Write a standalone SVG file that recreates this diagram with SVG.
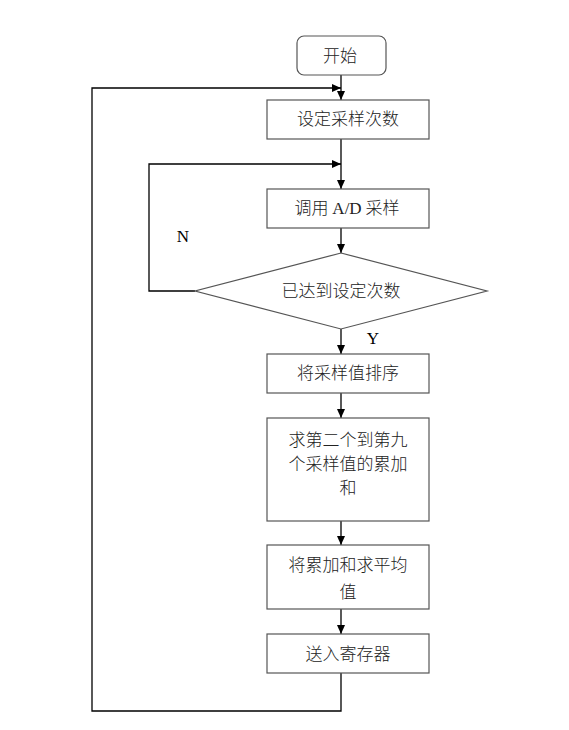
<svg xmlns="http://www.w3.org/2000/svg" width="569" height="730" viewBox="0 0 569 730">
<style>
.box{fill:#fff;stroke:#555;stroke-width:1.2}
.ln{fill:none;stroke:#000;stroke-width:1.3}
.t{font-family:"Noto Sans CJK SC","Noto Sans",sans-serif;font-size:17px;font-weight:300;fill:#222;text-anchor:middle}
.lat{font-family:"Liberation Serif",serif;font-size:17px;fill:#000}
</style>
<defs>
<marker id="ah" markerUnits="userSpaceOnUse" markerWidth="10" markerHeight="10" refX="9" refY="5" orient="auto">
<path d="M0,1 L9,5 L0,9 Z" fill="#000"/>
</marker>
</defs>
<rect width="569" height="730" fill="#fff"/>
<g id="connectors">
<line class="ln" x1="341" y1="75" x2="341" y2="100" marker-end="url(#ah)"/>
<polyline class="ln" points="341,673 341,711 92,711 92,88 341,88" marker-end="url(#ah)"/>
<line class="ln" x1="341" y1="139" x2="341" y2="189" marker-end="url(#ah)"/>
<polyline class="ln" points="195,291 149,291 149,164 341,164" marker-end="url(#ah)"/>
<line class="ln" x1="341" y1="228" x2="341" y2="253" marker-end="url(#ah)"/>
<line class="ln" x1="341" y1="329" x2="341" y2="354" marker-end="url(#ah)"/>
<line class="ln" x1="341" y1="393" x2="341" y2="418" marker-end="url(#ah)"/>
<line class="ln" x1="341" y1="521" x2="341" y2="545" marker-end="url(#ah)"/>
<line class="ln" x1="341" y1="609" x2="341" y2="634" marker-end="url(#ah)"/>
<text class="lat" x="183" y="242" text-anchor="middle">N</text>
<text class="lat" x="373" y="344" text-anchor="middle">Y</text>
</g>
<g id="start">
<rect class="box" x="297" y="36" width="89" height="39" rx="7"/>
<text class="t" x="340" y="62">开始</text>
</g>
<g id="set-count">
<rect class="box" x="267" y="100" width="162" height="39"/>
<text class="t" x="348" y="125">设定采样次数</text>
</g>
<g id="ad-sample">
<rect class="box" x="267" y="189" width="162" height="39"/>
<text class="t" x="347" y="214">调用 <tspan font-family="Liberation Serif, serif" font-weight="400">A/D</tspan> 采样</text>
</g>
<g id="decision">
<polygon class="box" points="341,253 487,291 341,329 195,291"/>
<text class="t" x="341" y="297">已达到设定次数</text>
</g>
<g id="sort">
<rect class="box" x="267" y="354" width="162" height="39"/>
<text class="t" x="348" y="379">将采样值排序</text>
</g>
<g id="sum">
<rect class="box" x="267" y="418" width="162" height="103"/>
<text class="t" x="348" y="446">求第二个到第九</text>
<text class="t" x="348" y="470">个采样值的累加</text>
<text class="t" x="348" y="494">和</text>
</g>
<g id="average">
<rect class="box" x="267" y="545" width="162" height="64"/>
<text class="t" x="348" y="571">将累加和求平均</text>
<text class="t" x="348" y="598">值</text>
</g>
<g id="store">
<rect class="box" x="267" y="634" width="162" height="39"/>
<text class="t" x="348" y="660">送入寄存器</text>
</g>
</svg>
